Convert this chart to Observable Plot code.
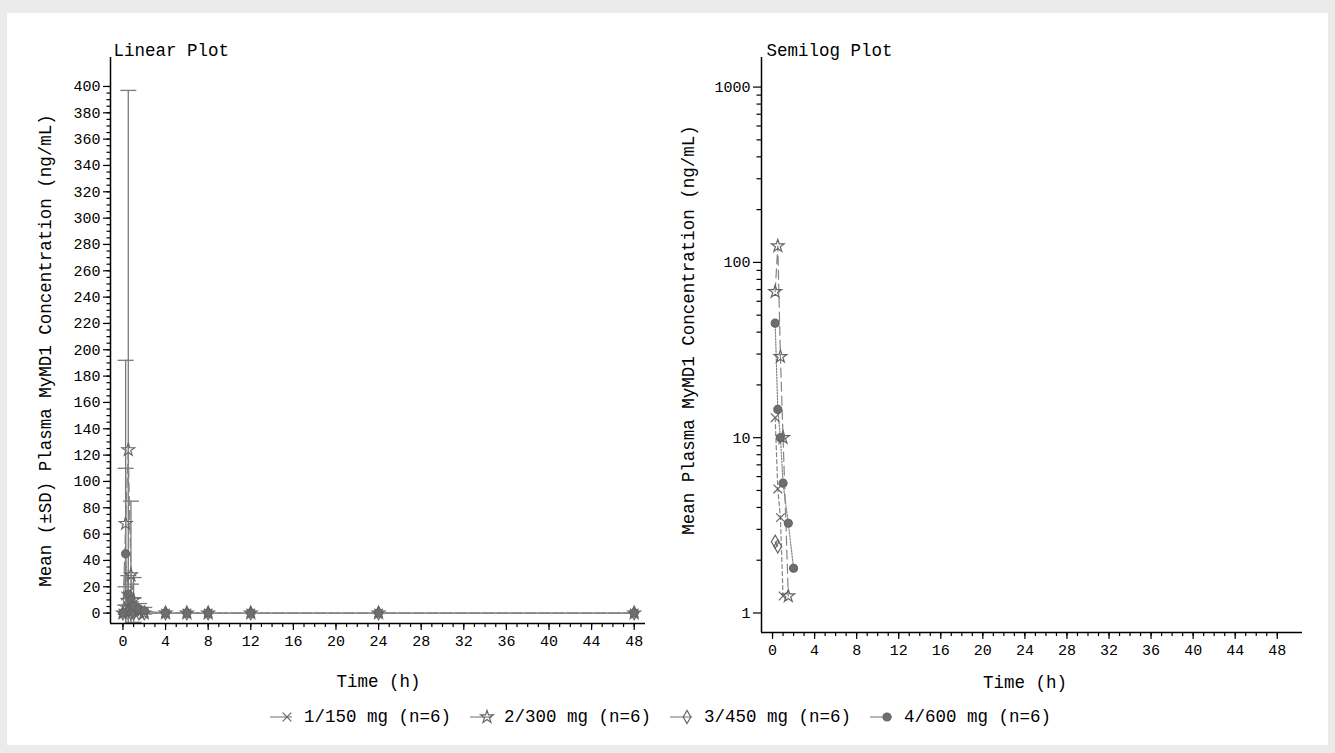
<!DOCTYPE html>
<html><head><meta charset="utf-8">
<script src="https://cdn.jsdelivr.net/npm/d3@7"></script>
<script src="https://cdn.jsdelivr.net/npm/@observablehq/plot@0.6"></script>
<style>
body{margin:0;background:#ebebeb;width:1335px;height:753px;overflow:hidden;font-family:"Liberation Mono",monospace;position:relative}
#panel{position:absolute;left:7px;top:13px;width:1321px;height:732px;background:#fff}
#left{position:absolute;left:0;top:0}
#right{position:absolute;left:670px;top:0}
#legend{position:absolute;top:707px;left:270px;display:flex;align-items:center;font-size:17.5px;color:#000;white-space:pre}
.item{display:flex;align-items:center;margin-right:19px}
.item span{margin-left:8px}
</style></head><body>
<div id="panel"></div><div id="left"></div><div id="right"></div><div id="legend"></div>
<script>
const groups = ["1/150 mg (n=6)", "2/300 mg (n=6)", "3/450 mg (n=6)", "4/600 mg (n=6)"];
const times = [0, 0.25, 0.5, 0.75, 1, 1.5, 2, 4, 6, 8, 12, 24, 48];
const mean1 = [0, 13, 5.1, 3.5, 1.25, 0, 0, 0, 0, 0, 0, 0, 0];
const sd1   = [0, 7, 6, 5, 2, 0, 0, 0, 0, 0, 0, 0, 0];
const mean2 = [0, 68, 124, 29, 10, 1.25, 0, 0, 0, 0, 0, 0, 0];
const sd2   = [0, 124, 273, 56, 17, 2, 0, 0, 0, 0, 0, 0, 0];
const mean3 = [0, 2.55, 2.4, 0, 0, 0, 0, 0, 0, 0, 0, 0, 0];
const sd3   = [0, 3.5, 3, 0, 0, 0, 0, 0, 0, 0, 0, 0, 0];
const mean4 = [0, 45, 14.5, 10, 5.5, 3.25, 1.8, 0, 0, 0, 0, 0, 0];
const sd4   = [0, 65, 14, 12, 6, 4, 2.5, 0, 0, 0, 0, 0, 0];
const xMajor = d3.range(0, 49, 4);
const xMinor = d3.range(0, 49, 1);
const linMajor = d3.range(0, 401, 20);
const linMinor = d3.range(0, 401, 5);
const logMajor = [1, 10, 100, 1000];
const logMinor = [2,3,4,5,6,7,8,9,20,30,40,50,60,70,80,90,200,300,400,500,600,700,800,900];

const means = [mean1, mean2, mean3, mean4];
const sds = [sd1, sd2, sd3, sd4];
const symbols = ["times", "star", "diamond", "circle"];
const d3symbols = [d3.symbolTimes, d3.symbolStar, d3.symbolDiamond, d3.symbolCircle];
const dashes = ["4,3", "9,5", "none", "1.5,1.5"];
const fills = ["none", "none", "none", "#6e6e6e"];
const lineColor = "#858585";
const markColor = "#666666";
const font = "Liberation Mono";

const rows = groups.map((g, i) => times.map((t, j) => ({group: g, gi: i, t, mean: means[i][j], sd: sds[i][j]})));
const capSymbol = {draw(ctx, size) { const r = Math.sqrt(size / Math.PI); ctx.moveTo(-r, 0); ctx.lineTo(r, 0); }};

function groupMarks(data) {
  const m = [];
  data.forEach((rs, i) => {
    m.push(Plot.line(rs, {x: "t", y: "mean", stroke: lineColor, strokeWidth: 1.2, strokeDasharray: dashes[i], clip: true}));
  });
  data.forEach((rs, i) => {
    m.push(Plot.dot(rs, {x: "t", y: "mean", symbol: () => symbols[i], r: 4, stroke: markColor, fill: fills[i], strokeWidth: 1.2, clip: true}));
  });
  return m;
}

// Linear plot
const xDomL = [-1.17, 49.06];
const yDomL = [-7.9, 422];
const sdRows = rows.flat().filter(d => d.sd > 0);
const left = Plot.plot({
  width: 670, height: 700,
  marginLeft: 110, marginRight: 25, marginTop: 57, marginBottom: 77,
  style: {fontFamily: font, fontSize: "15px", color: "#000", background: "transparent"},
  x: {domain: xDomL, axis: null},
  y: {domain: yDomL, axis: null},
  marks: [
    Plot.ruleX(sdRows, {x: "t", y1: d => d.mean - d.sd, y2: d => d.mean + d.sd, stroke: "#7a7a7a", strokeWidth: 1.3, clip: true}),
    Plot.dot(sdRows, {x: "t", y: d => d.mean + d.sd, symbol: capSymbol, r: 8, stroke: "#7a7a7a", fill: "none", strokeWidth: 1.3, clip: true}),
    Plot.dot(sdRows, {x: "t", y: d => d.mean - d.sd, symbol: capSymbol, r: 8, stroke: "#7a7a7a", fill: "none", strokeWidth: 1.3, clip: true}),
    ...groupMarks(rows),
    Plot.axisX({ticks: xMinor, tickSize: 4, tickFormat: () => "", label: null, strokeWidth: 1.2}),
    Plot.axisX({ticks: xMajor, tickSize: 7, tickPadding: 5, label: null, strokeWidth: 1.2}),
    Plot.axisY({ticks: linMinor, tickSize: 3.5, tickFormat: () => "", label: null, strokeWidth: 1.2}),
    Plot.axisY({ticks: linMajor, tickSize: 7, tickPadding: 3, label: null, strokeWidth: 1.2}),
    Plot.ruleX([xDomL[0]], {stroke: "#000", strokeWidth: 1.5}),
    Plot.ruleY([yDomL[0]], {stroke: "#000", strokeWidth: 1.5}),
    Plot.text(["Linear Plot"], {frameAnchor: "top-left", dx: 3, dy: -14, textAnchor: "start", fontSize: 17.5, fontFamily: font}),
    Plot.text(["Time (h)"], {x: 24, frameAnchor: "bottom", dy: 63, fontSize: 17.5, fontFamily: font}),
    Plot.text(["Mean (±SD) Plasma MyMD1 Concentration (ng/mL)"], {frameAnchor: "left", textAnchor: "middle", dx: -65, dy: 10, rotate: -90, fontSize: 17.5, fontFamily: font})
  ]
});
document.getElementById("left").append(left);

// Semilog plot
const xDomR = [-1.05, 50.4];
const yDomR = [0.774, 1475];
const logRows = rows.map(rs => rs.filter(d => d.mean > 0));
const right = Plot.plot({
  width: 665, height: 700,
  marginLeft: 91, marginRight: 33, marginTop: 57, marginBottom: 68,
  style: {fontFamily: font, fontSize: "15px", color: "#000", background: "transparent"},
  x: {domain: xDomR, axis: null},
  y: {type: "log", domain: yDomR, axis: null},
  marks: [
    ...groupMarks(logRows),
    Plot.axisX({ticks: xMinor, tickSize: 4, tickFormat: () => "", label: null, strokeWidth: 1.2}),
    Plot.axisX({ticks: xMajor, tickSize: 7, tickPadding: 5, label: null, strokeWidth: 1.2}),
    Plot.axisY({ticks: logMinor, tickSize: 4.5, tickFormat: () => "", label: null, strokeWidth: 1.2}),
    Plot.axisY({ticks: logMajor, tickSize: 8, tickPadding: 3, tickFormat: d3.format("d"), label: null, strokeWidth: 1.2}),
    Plot.ruleX([xDomR[0]], {stroke: "#000", strokeWidth: 1.5}),
    Plot.ruleY([yDomR[0]], {stroke: "#000", strokeWidth: 1.5}),
    Plot.text(["Semilog Plot"], {frameAnchor: "top-left", dx: 5, dy: -14, textAnchor: "start", fontSize: 17.5, fontFamily: font}),
    Plot.text(["Time (h)"], {x: 24, frameAnchor: "bottom", dy: 55, fontSize: 17.5, fontFamily: font}),
    Plot.text(["Mean Plasma MyMD1 Concentration (ng/mL)"], {frameAnchor: "left", textAnchor: "middle", dx: -73, dy: -15, rotate: -90, fontSize: 17.5, fontFamily: font})
  ]
});
document.getElementById("right").append(right);

// Legend
const legend = document.getElementById("legend");
groups.forEach((g, i) => {
  const item = document.createElement("div");
  item.className = "item";
  const svg = d3.create("svg").attr("width", 26).attr("height", 16);
  svg.append("line").attr("x1", 0).attr("x2", 22).attr("y1", 8).attr("y2", 8).attr("stroke", lineColor).attr("stroke-width", 1.2);
  svg.append("path").attr("transform", "translate(17,8)").attr("d", d3.symbol(d3symbols[i], 50)())
    .attr("fill", fills[i]).attr("stroke", markColor).attr("stroke-width", 1.2);
  item.append(svg.node());
  const s = document.createElement("span");
  s.textContent = g;
  item.append(s);
  legend.append(item);
});
</script>
</body></html>
